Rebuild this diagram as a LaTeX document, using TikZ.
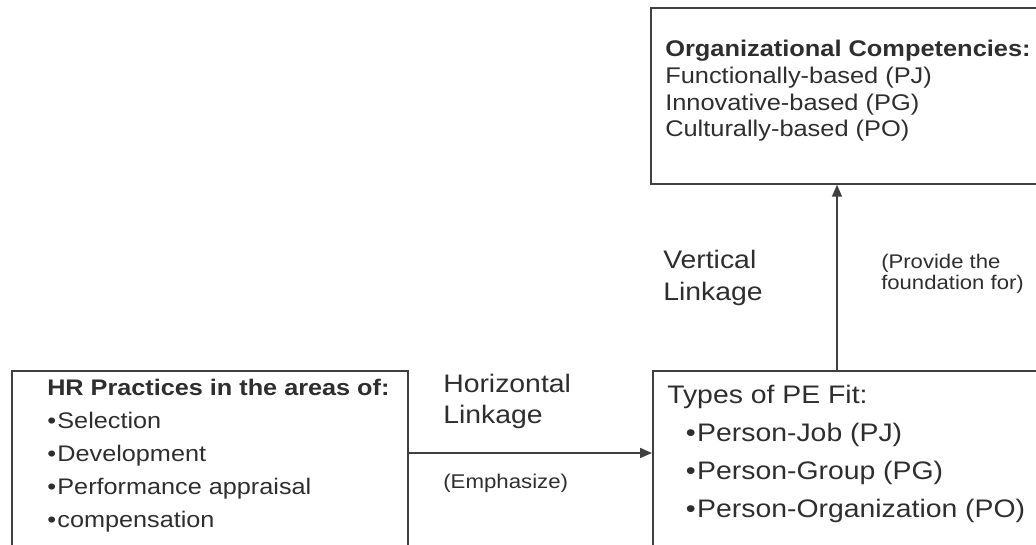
\documentclass[tikz,border=0pt]{standalone}
\usepackage{fontspec}
\setmainfont{Liberation Sans}[FakeStretch=1.12]
\usetikzlibrary{arrows.meta}
\definecolor{inkgray}{HTML}{2E2E2E}
\definecolor{linegray}{HTML}{404040}

\begin{document}
\begin{tikzpicture}[x=0.75pt,y=-0.75pt]
		\useasboundingbox (0,0) rectangle (1036,545);
		\clip (0,0) rectangle (1036,545);
		\tikzstyle{box}=[draw=linegray,line width=1.3pt,rectangle,anchor=north west,inner sep=0pt]
		\tikzstyle{txt}=[anchor=north west,inner sep=0pt,align=left,text=inkgray]
		\tikzstyle{link}=[draw=linegray,line width=1.3pt,-{Triangle[length=9pt,width=7.5pt]}]
		% the three boxes
		\node[box,minimum width=300pt,minimum height=132pt] (box_comp) at (650,7) {};
		\node[box,minimum width=297pt,minimum height=150pt] (box_hr) at (11,370) {};
		\node[box,minimum width=300pt,minimum height=150pt] (box_fit) at (652,370) {};
		% box texts
		\node[txt,font={\fontsize{17}{20}\selectfont}] (t_comp) at (665,40) {\textbf{Organizational Competencies:}\\Functionally-based (PJ)\\Innovative-based (PG)\\Culturally-based (PO)};
		\node[txt,font={\fontsize{16.9}{24.75}\selectfont}] (t_hr) at (47,379) {\textbf{HR Practices in the areas of:}\\•\hspace{1pt}Selection\\•\hspace{1pt}Development\\•\hspace{1pt}Performance appraisal\\•\hspace{1pt}compensation};
		\node[txt,font={\fontsize{19}{28.5}\selectfont}] (t_fit) at (667,385) {Types of PE Fit:\\\hspace*{14pt}•\hspace{1pt}Person-Job (PJ)\\\hspace*{14pt}•\hspace{1pt}Person-Group (PG)\\\hspace*{14pt}•\hspace{1pt}Person-Organization (PO)};
		% linkage labels
		\node[txt,font={\fontsize{19}{23.25}\selectfont}] (l_hor) at (443,374) {Horizontal\\Linkage};
		\node[txt,font={\fontsize{14.9}{17}\selectfont}] (l_emph) at (443,474) {(Emphasize)};
		\node[txt,font={\fontsize{19}{24}\selectfont}] (l_ver) at (663,250) {Vertical\\Linkage};
		\node[txt,font={\fontsize{14.8}{15.75}\selectfont}] (l_found) at (881,254) {(Provide the\\foundation for)};
		% connectors
		\coordinate (h_in) at (box_hr.east |- 0,453);
		\coordinate (v_in) at (box_fit.north -| 837,0);
		\draw[link] (h_in) -- (h_in -| box_fit.west);
		\draw[link] (v_in) -- (v_in |- box_comp.south);
	\end{tikzpicture}
\end{document}
